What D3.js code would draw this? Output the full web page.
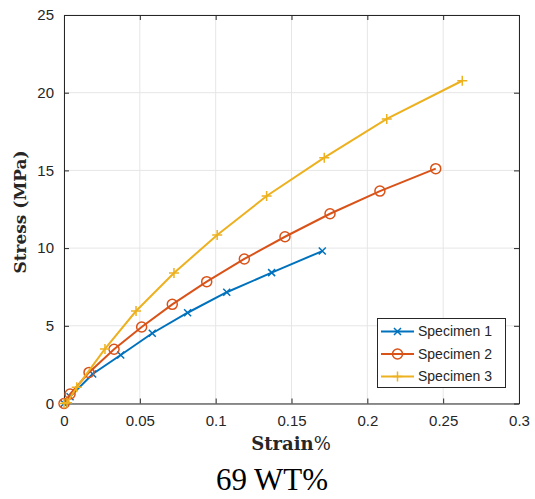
<!DOCTYPE html>
<html>
<head>
<meta charset="utf-8">
<script src="https://d3js.org/d3.v7.min.js"></script>
<style>
  body { margin: 0; background: #fff; }
  svg { display: block; }
</style>
</head>
<body>
<svg id="chart" width="535" height="499"></svg>
<script>
// data (strain, stress MPa)
var spec1Strain = [0, 0.004, 0.0189, 0.0374, 0.0582, 0.0815, 0.1073, 0.1369, 0.1703]
var spec1Stress = [0, 0.44, 1.9, 3.12, 4.52, 5.84, 7.16, 8.42, 9.81]
var spec2Strain = [0, 0.004, 0.0165, 0.033, 0.0512, 0.0714, 0.0941, 0.1189, 0.1457, 0.1754, 0.2083, 0.2451]
var spec2Stress = [0, 0.61, 2.0, 3.49, 4.92, 6.38, 7.84, 9.3, 10.73, 12.21, 13.67, 15.11]
var spec3Strain = [0, 0.002, 0.0084, 0.027, 0.0475, 0.0725, 0.101, 0.1336, 0.1716, 0.2128, 0.2626]
var spec3Stress = [0, 0.05, 1.04, 3.51, 5.95, 8.4, 10.84, 13.35, 15.82, 18.31, 20.77]
var seriesNames = ["Specimen 1", "Specimen 2", "Specimen 3"]
var xTicks = [0, 0.05, 0.1, 0.15, 0.2, 0.25, 0.3]
var yTicks = [0, 5, 10, 15, 20, 25]

var colors = ["#0072BD", "#D95319", "#EDB120"]
var markers = ["x", "o", "+"]

var svg = d3.select("#chart")
var plot = {left: 64, right: 519, top: 15, bottom: 403.5}

var x = d3.scaleLinear().domain([0, 0.3]).range([plot.left, plot.right])
var y = d3.scaleLinear().domain([0, 25]).range([plot.bottom, plot.top])

// grid
var grid = svg.append("g")
grid.selectAll("line.gx").data(xTicks).enter().append("line")
    .attr("x1", d => x(d)).attr("x2", d => x(d))
    .attr("y1", plot.top).attr("y2", plot.bottom)
    .attr("stroke", "#e6e6e6").attr("stroke-width", 1)
grid.selectAll("line.gy").data(yTicks).enter().append("line")
    .attr("y1", d => y(d)).attr("y2", d => y(d))
    .attr("x1", plot.left).attr("x2", plot.right)
    .attr("stroke", "#e6e6e6").attr("stroke-width", 1)

// axes (ticks inside, box on all sides)
var axisColor = "#262626"
svg.append("g").attr("transform", "translate(0," + plot.bottom + ")")
    .call(d3.axisBottom(x).tickValues(xTicks).tickSizeInner(-5).tickSizeOuter(0)
        .tickFormat(d => d3.format("~g")(d)).tickPadding(12))
svg.append("g").attr("transform", "translate(0," + plot.top + ")")
    .call(d3.axisTop(x).tickValues(xTicks).tickSizeInner(-5).tickSizeOuter(0).tickFormat(""))
svg.append("g").attr("transform", "translate(" + plot.left + ",0)")
    .call(d3.axisLeft(y).tickValues(yTicks).tickSizeInner(-5).tickSizeOuter(0).tickPadding(10))
svg.append("g").attr("transform", "translate(" + plot.right + ",0)")
    .call(d3.axisRight(y).tickValues(yTicks).tickSizeInner(-5).tickSizeOuter(0).tickFormat(""))

svg.selectAll(".domain").attr("stroke", axisColor).attr("stroke-width", 1)
svg.selectAll(".tick line").attr("stroke", axisColor)
svg.selectAll(".tick text").attr("fill", axisColor)
    .style("font-family", "'Liberation Sans', Arial, sans-serif").style("font-size", "15px")

// series
var allSeries = [
    d3.zip(spec1Strain, spec1Stress),
    d3.zip(spec2Strain, spec2Stress),
    d3.zip(spec3Strain, spec3Stress)
]
var line = d3.line().x(d => x(d[0])).y(d => y(d[1]))

function drawMarker(g, type, cx, cy, color) {
    if (type == "o") {
        g.append("circle").attr("cx", cx).attr("cy", cy).attr("r", 5)
            .attr("fill", "none").attr("stroke", color).attr("stroke-width", 1.5)
    } else if (type == "x") {
        var s = 3.5
        g.append("path")
            .attr("d", "M" + (cx - s) + "," + (cy - s) + "L" + (cx + s) + "," + (cy + s) +
                "M" + (cx - s) + "," + (cy + s) + "L" + (cx + s) + "," + (cy - s))
            .attr("stroke", color).attr("stroke-width", 1.5)
    } else {
        var s = 5
        g.append("path")
            .attr("d", "M" + (cx - s) + "," + cy + "L" + (cx + s) + "," + cy +
                "M" + cx + "," + (cy - s) + "L" + cx + "," + (cy + s))
            .attr("stroke", color).attr("stroke-width", 1.5)
    }
}

allSeries.forEach(function(data, i) {
    var g = svg.append("g")
    g.append("path").datum(data).attr("d", line)
        .attr("fill", "none").attr("stroke", colors[i]).attr("stroke-width", 2)
    data.forEach(function(d) {
        drawMarker(g, markers[i], x(d[0]), y(d[1]), colors[i])
    })
})

// legend
var lg = svg.append("g")
lg.append("rect").attr("x", 377.5).attr("y", 318.5).attr("width", 128).attr("height", 69)
    .attr("fill", "#fff").attr("stroke", axisColor).attr("stroke-width", 1)
seriesNames.forEach(function(name, i) {
    var ly = 331.5 + i * 22.5
    lg.append("line").attr("x1", 381).attr("x2", 414).attr("y1", ly).attr("y2", ly)
        .attr("stroke", colors[i]).attr("stroke-width", 2)
    drawMarker(lg, markers[i], 397.5, ly, colors[i])
    lg.append("text").attr("x", 418).attr("y", ly).attr("dy", "0.35em")
        .text(name).attr("fill", axisColor)
        .style("font-family", "'Liberation Sans', Arial, sans-serif").style("font-size", "14px")
})

// axis labels
var xl = svg.append("text").attr("x", 291).attr("y", 450).attr("text-anchor", "middle")
    .style("font-family", "'DejaVu Serif', 'Liberation Serif', serif").style("font-size", "18px")
    .attr("fill", axisColor)
xl.append("tspan").text("Strain").style("font-weight", "bold")
xl.append("tspan").text("%")

svg.append("text").attr("transform", "translate(26," + 212 + ") rotate(-90)")
    .attr("text-anchor", "middle")
    .style("font-family", "'DejaVu Serif', 'Liberation Serif', serif").style("font-size", "17px")
    .style("font-weight", "bold").attr("fill", axisColor)
    .text("Stress (MPa)")

// title below
svg.append("text").attr("x", 272).attr("y", 490).attr("text-anchor", "middle")
    .style("font-family", "'Liberation Serif', 'Times New Roman', serif").style("font-size", "31px")
    .attr("fill", "#000").text("69 WT%")
</script>
</body>
</html>
